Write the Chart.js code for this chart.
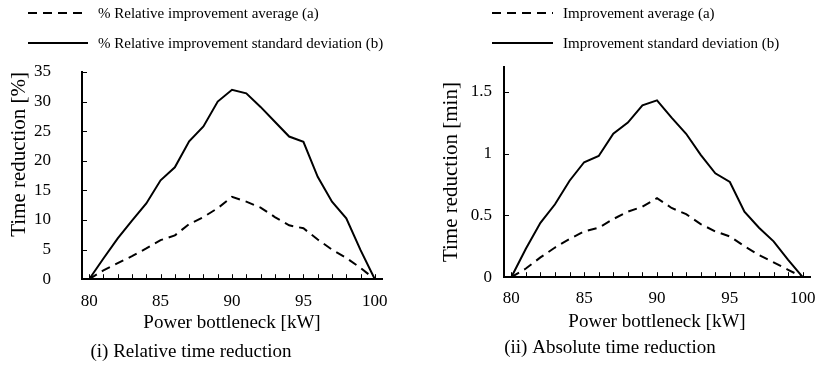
<!DOCTYPE html>
<html>
<head>
<meta charset="utf-8">
<script src="https://cdn.jsdelivr.net/npm/chart.js@4"></script>
<style>
  body { margin: 0; background: #fff; }
  .panel { position: absolute; top: 0; height: 371px; }
  #left { left: 0; width: 410px; }
  #right { left: 410px; width: 407px; }
</style>
</head>
<body>
<div class="panel" id="left"><canvas id="relChart"></canvas></div>
<div class="panel" id="right"><canvas id="absChart"></canvas></div>
<script>
const kW = [80, 81, 82, 83, 84, 85, 86, 87, 88, 89, 90, 91, 92, 93, 94, 95, 96, 97, 98, 99, 100];

// (i) relative reduction, %
const relAvg = [0, 1.5, 2.7, 3.9, 5.2, 6.6, 7.4, 9.3, 10.5, 12.0, 13.9, 13.1, 12.1, 10.5, 9.1, 8.6, 6.7, 5.0, 3.6, 1.9, 0];
const relStd = [0, 3.5, 6.9, 9.9, 12.8, 16.7, 18.9, 23.3, 25.8, 30.0, 32.0, 31.4, 29.1, 26.6, 24.1, 23.2, 17.3, 13.1, 10.3, 4.9, 0];
const relYTicks = [0, 5, 10, 15, 20, 25, 30, 35];

// (ii) absolute reduction, min
const absAvg = [0, 0.07, 0.16, 0.24, 0.31, 0.37, 0.40, 0.47, 0.53, 0.57, 0.64, 0.56, 0.51, 0.43, 0.37, 0.33, 0.25, 0.18, 0.12, 0.06, 0];
const absStd = [0, 0.23, 0.44, 0.59, 0.78, 0.93, 0.98, 1.16, 1.25, 1.39, 1.43, 1.29, 1.16, 0.99, 0.84, 0.77, 0.53, 0.40, 0.29, 0.14, 0];
const absYTicks = [0, 0.5, 1, 1.5];

const serif = "'Liberation Serif', 'Times New Roman', serif";
Chart.defaults.font.family = serif;
Chart.defaults.color = '#000';

// two stacked legend rows: line sample, then label
const stackedLegend = {
  id: 'stackedLegend',
  afterDraw(chart, args, opts) {
    const ctx = chart.ctx;
    ctx.save();
    ctx.font = opts.size + 'px ' + serif;
    ctx.textBaseline = 'middle';
    ctx.fillStyle = '#000';
    chart.data.datasets.forEach((ds, i) => {
      const y = opts.rows[i];
      ctx.beginPath();
      ctx.setLineDash(ds.borderDash || []);
      ctx.lineWidth = 2;
      ctx.strokeStyle = ds.borderColor;
      ctx.moveTo(opts.x, y);
      ctx.lineTo(opts.x + opts.lineLen, y);
      ctx.stroke();
      ctx.setLineDash([]);
      ctx.fillText(ds.label, opts.x + opts.lineLen + opts.gap, y + 1);
    });
    ctx.restore();
  }
};

// short tick marks pointing into the plot
const innerTicks = {
  id: 'innerTicks',
  afterDraw(chart) {
    const { ctx, chartArea, scales } = chart;
    ctx.save();
    ctx.strokeStyle = '#000';
    ctx.lineWidth = 1;
    ctx.beginPath();
    scales.x.ticks.forEach((t, i) => {
      const px = Math.round(scales.x.getPixelForTick(i)) + 0.5;
      ctx.moveTo(px, chartArea.bottom);
      ctx.lineTo(px, chartArea.bottom - 5);
    });
    scales.y.ticks.forEach((t, i) => {
      const py = Math.round(scales.y.getPixelForTick(i)) + 0.5;
      ctx.moveTo(chartArea.left, py);
      ctx.lineTo(chartArea.left + 5, py);
    });
    ctx.stroke();
    ctx.restore();
  }
};

function makeChart(id, s) {
  return new Chart(document.getElementById(id), {
    type: 'line',
    data: {
      labels: kW,
      datasets: [
        { label: s.labels[0], data: s.avg, borderColor: '#000', borderWidth: 2, borderDash: [9, 6], pointRadius: 0, tension: 0 },
        { label: s.labels[1], data: s.std, borderColor: '#000', borderWidth: 2, pointRadius: 0, tension: 0 }
      ]
    },
    options: {
      responsive: true,
      maintainAspectRatio: false,
      animation: false,
      layout: { padding: { top: s.top, right: s.right, left: 0, bottom: 0 } },
      scales: {
        x: {
          type: 'linear',
          min: 79.5,
          max: 100.5,
          afterBuildTicks: (a) => { a.ticks = kW.map(v => ({ value: v })); },
          afterFit: (a) => { a.height = s.xHeight; a.paddingLeft = 0; a.paddingRight = 0; },
          grid: { display: false, drawTicks: false },
          border: { color: '#000', width: 2 },
          ticks: {
            autoSkip: false, maxRotation: 0, padding: s.xLabelPad,
            font: { size: 17 }, color: '#000',
            callback: (v) => (v % 5 === 0 ? v : '')
          },
          title: { display: true, text: 'Power bottleneck [kW]', font: { size: 19 }, color: '#000', padding: { top: 0, bottom: s.xTitlePad } }
        },
        y: {
          min: 0,
          max: s.yMax,
          afterBuildTicks: (a) => { a.ticks = s.yTicks.map(v => ({ value: v })); },
          afterFit: (a) => { a.width = s.yWidth; a.paddingTop = 0; a.paddingBottom = 0; },
          grid: { display: false, drawTicks: false },
          border: { color: '#000', width: 2 },
          ticks: { padding: s.yLabelPad, font: { size: 17 }, color: '#000', callback: (v) => String(v) },
          title: { display: true, text: s.yTitle, font: { size: 21 }, color: '#000', align: s.yTitleAlign, padding: { top: s.yTitlePad, bottom: 0 } }
        }
      },
      plugins: {
        legend: { display: false },
        tooltip: { enabled: false },
        title: { display: true, position: 'bottom', text: s.caption, font: { size: 19, weight: 'normal' }, color: '#000', padding: { top: 0, bottom: s.captionPad } },
        stackedLegend: s.legend
      }
    },
    plugins: [stackedLegend, innerTicks]
  });
}

makeChart('relChart', {
  avg: relAvg, std: relStd,
  labels: ['% Relative improvement average (a)', '% Relative improvement standard deviation (b)'],
  yTitle: 'Time reduction [%]', yTitleAlign: 'end', yTitlePad: 7,
  yMax: 35, yTicks: relYTicks, yWidth: 82, yLabelPad: 31,
  top: 72, right: 28, xHeight: 61, xLabelPad: 12, xTitlePad: 6,
  caption: '(i) Relative time reduction', captionPad: 8,
  legend: { x: 28, lineLen: 60, gap: 10, rows: [13, 43], size: 15 }
});

makeChart('absChart', {
  avg: absAvg, std: absStd,
  labels: ['Improvement average (a)', 'Improvement standard deviation (b)'],
  yTitle: 'Time reduction [min]', yTitleAlign: 'center', yTitlePad: 29,
  yMax: 1.7, yTicks: absYTicks, yWidth: 94, yLabelPad: 12,
  top: 67, right: 7, xHeight: 59, xLabelPad: 11, xTitlePad: 3,
  caption: '(ii) Absolute time reduction', captionPad: 12,
  legend: { x: 82, lineLen: 61, gap: 10, rows: [13, 43], size: 15 }
});
</script>
</body>
</html>
